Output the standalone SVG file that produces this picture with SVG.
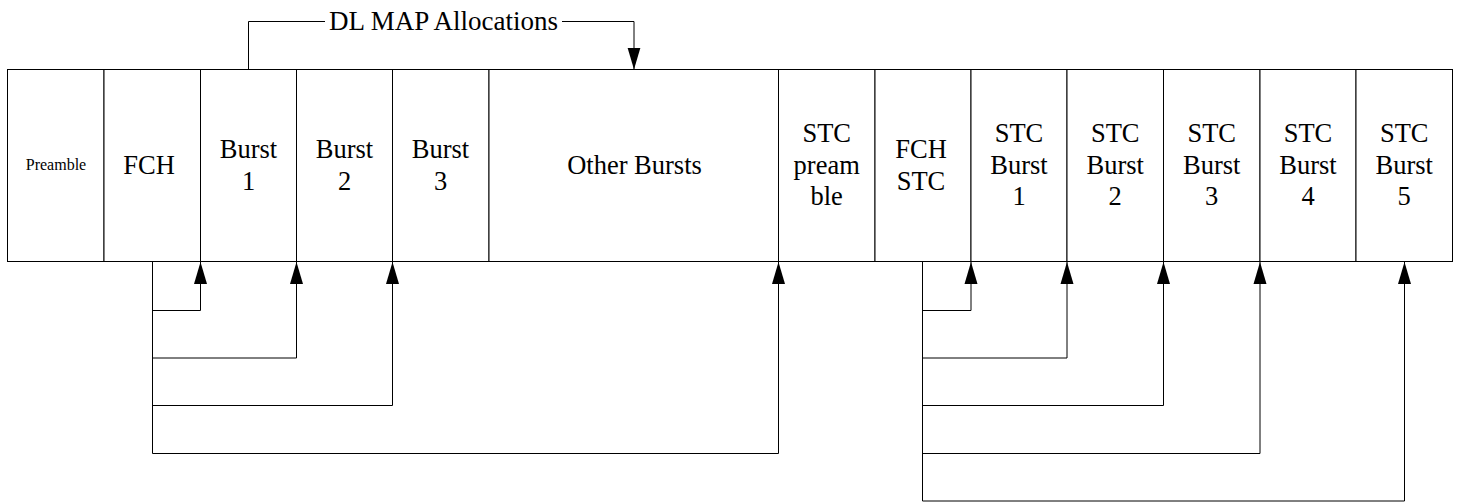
<svg xmlns="http://www.w3.org/2000/svg" width="1458" height="502" viewBox="0 0 1458 502">
<style>
.cell{fill:#fff;stroke:#000;stroke-width:1}
.t{font-family:"Liberation Serif","Times New Roman",serif;font-size:26.5px;fill:#000;text-anchor:middle}
.s{font-family:"Liberation Serif","Times New Roman",serif;font-size:16px;fill:#000;text-anchor:middle}
.c{fill:none;stroke:#000;stroke-width:1}
</style>
<defs>
<marker id="ah" markerUnits="userSpaceOnUse" markerWidth="22" markerHeight="14" refX="22" refY="7" orient="auto" viewBox="0 0 22 14">
<path d="M0,0.5 L22,7 L0,13.5 z" fill="#000"/>
</marker>
</defs>
<rect x="0" y="0" width="1458" height="502" fill="#fff"/>
<g id="preamble"><rect class="cell" x="7.5" y="69.5" width="96.5" height="192"/><text class="s" x="56" y="170">Preamble</text></g>
<g id="fch"><rect class="cell" x="104" y="69.5" width="96.5" height="192"/><text class="t" x="149" y="174">FCH</text></g>
<g id="burst1"><rect class="cell" x="200.5" y="69.5" width="96" height="192"/><text class="t" x="248.5" y="158">Burst<tspan x="248.5" dy="32">1</tspan></text></g>
<g id="burst2"><rect class="cell" x="296.5" y="69.5" width="96" height="192"/><text class="t" x="344.5" y="158">Burst<tspan x="344.5" dy="32">2</tspan></text></g>
<g id="burst3"><rect class="cell" x="392.5" y="69.5" width="96.5" height="192"/><text class="t" x="440.5" y="158">Burst<tspan x="440.5" dy="32">3</tspan></text></g>
<g id="other"><rect class="cell" x="489" y="69.5" width="289.5" height="192"/><text class="t" x="634.5" y="174">Other Bursts</text></g>
<g id="stcpre"><rect class="cell" x="778.5" y="69.5" width="96.5" height="192"/><text class="t" x="826.7" y="142">STC<tspan x="826.7" dy="31.5">pream</tspan><tspan x="826.7" dy="31.5">ble</tspan></text></g>
<g id="fchstc"><rect class="cell" x="875" y="69.5" width="96" height="192"/><text class="t" x="921" y="158">FCH<tspan x="921" dy="32">STC</tspan></text></g>
<g id="stc1"><rect class="cell" x="971" y="69.5" width="96" height="192"/><text class="t" x="1019" y="142">STC<tspan x="1019" dy="31.5">Burst</tspan><tspan x="1019" dy="31.5">1</tspan></text></g>
<g id="stc2"><rect class="cell" x="1067" y="69.5" width="96.5" height="192"/><text class="t" x="1115.2" y="142">STC<tspan x="1115.2" dy="31.5">Burst</tspan><tspan x="1115.2" dy="31.5">2</tspan></text></g>
<g id="stc3"><rect class="cell" x="1163.5" y="69.5" width="96.5" height="192"/><text class="t" x="1211.7" y="142">STC<tspan x="1211.7" dy="31.5">Burst</tspan><tspan x="1211.7" dy="31.5">3</tspan></text></g>
<g id="stc4"><rect class="cell" x="1260" y="69.5" width="96" height="192"/><text class="t" x="1308" y="142">STC<tspan x="1308" dy="31.5">Burst</tspan><tspan x="1308" dy="31.5">4</tspan></text></g>
<g id="stc5"><rect class="cell" x="1356" y="69.5" width="96.5" height="192"/><text class="t" x="1404.2" y="142">STC<tspan x="1404.2" dy="31.5">Burst</tspan><tspan x="1404.2" dy="31.5">5</tspan></text></g>
<g id="dlmap"><text class="t" x="443.5" y="30" style="font-size:27px">DL MAP Allocations</text></g>
<g id="connectors">
<path class="c" d="M248.5,69.5 V21.5 H325"/>
<path class="c" d="M562,21.5 H634 V69.5" marker-end="url(#ah)"/>
<path class="c" d="M152.5,261.5 V310.5 H200.5 V262" marker-end="url(#ah)"/>
<path class="c" d="M152.5,261.5 V358 H296.5 V262" marker-end="url(#ah)"/>
<path class="c" d="M152.5,261.5 V405.5 H392.5 V262" marker-end="url(#ah)"/>
<path class="c" d="M152.5,261.5 V453.5 H778.5 V262" marker-end="url(#ah)"/>
<path class="c" d="M922.5,261.5 V310.5 H971 V262" marker-end="url(#ah)"/>
<path class="c" d="M922.5,261.5 V358 H1067 V262" marker-end="url(#ah)"/>
<path class="c" d="M922.5,261.5 V405.5 H1163.5 V262" marker-end="url(#ah)"/>
<path class="c" d="M922.5,261.5 V453.5 H1260 V262" marker-end="url(#ah)"/>
<path class="c" d="M922.5,261.5 V501 H1404.5 V262" marker-end="url(#ah)"/>
</g>
</svg>
